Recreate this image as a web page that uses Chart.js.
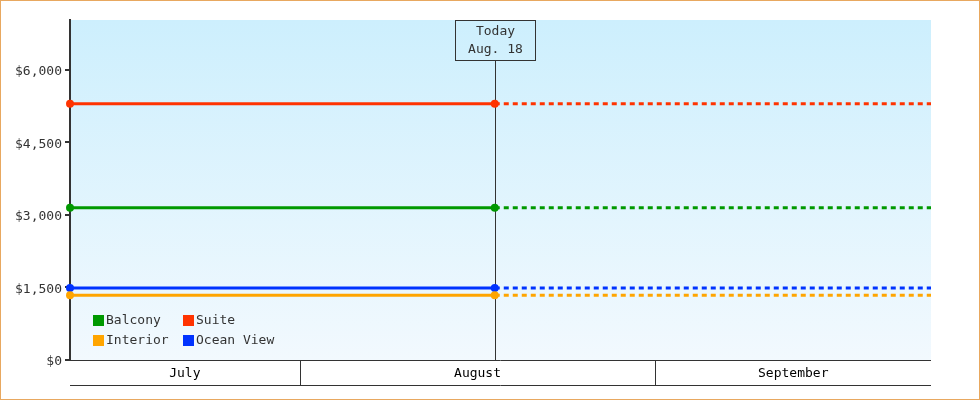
<!DOCTYPE html>
<html>
<head>
<meta charset="utf-8">
<script src="https://cdn.jsdelivr.net/npm/chart.js@4/dist/chart.umd.min.js"></script>
<style>
  html, body { margin: 0; padding: 0; background: #fff; }
  #wrap { width: 980px; height: 400px; position: relative; }
</style>
</head>
<body>
<div id="wrap"><canvas id="priceChart"></canvas></div>
<script>
// x values are days counted from July 1 (July 1 = 0)
const dayStart = 11;   // Jul 12
const dayToday = 48;   // Aug 18
const dayEnd = 86;     // Sep 25
const xDays = [dayStart, dayToday, dayEnd];

const months = ['July', 'August', 'September'];
const monthStarts = [0, 31, 62, 92];

const roomTypes = ['Balcony', 'Suite', 'Interior', 'Ocean View'];
const roomColors = ['#009900', '#ff3300', '#ffa500', '#0033ff'];
const balconyPrices = [3150, 3150, 3150];
const suitePrices = [5300, 5300, 5300];
const interiorPrices = [1340, 1340, 1340];
const oceanViewPrices = [1490, 1490, 1490];

const yTicks = [0, 1500, 3000, 4500, 6000];
const todayLabel = ['Today', 'Aug. 18'];

const FONT = '13px "DejaVu Sans Mono", monospace';
const INK = '#333333';

const makeSet = (label, values, color) => ({
  label,
  data: values.map((v, i) => ({ x: xDays[i], y: v })),
  borderColor: color,
  backgroundColor: color,
  borderWidth: 3,
  pointRadius: values.map((v, i) => (i < values.length - 1 ? 4 : 0)),
  pointBorderWidth: 0,
  pointHoverRadius: 0,
  segment: {
    borderDash: (ctx) => (ctx.p0DataIndex >= 1 ? [5, 4] : undefined),
  },
  clip: false,
});

const chartBackground = {
  id: 'chartBackground',
  beforeDraw(chart) {
    const { ctx, chartArea: a } = chart;
    const g = ctx.createLinearGradient(0, a.top, 0, a.bottom);
    g.addColorStop(0, '#cdeffd');
    g.addColorStop(1, '#f2f9fe');
    ctx.save();
    ctx.fillStyle = g;
    ctx.fillRect(a.left, a.top, a.right - a.left, a.bottom - a.top);
    ctx.restore();
  },
};

const monthBand = {
  id: 'monthBand',
  afterDraw(chart) {
    const { ctx, chartArea: a } = chart;
    const xs = chart.scales.x;
    const top = a.bottom;
    const bottom = a.bottom + 25;
    ctx.save();
    ctx.strokeStyle = INK;
    ctx.lineWidth = 1;
    ctx.beginPath();
    ctx.moveTo(a.left, top + 0.5);
    ctx.lineTo(a.right, top + 0.5);
    ctx.moveTo(a.left, bottom + 0.5);
    ctx.lineTo(a.right, bottom + 0.5);
    ctx.stroke();
    ctx.font = FONT;
    ctx.fillStyle = '#000';
    ctx.textAlign = 'center';
    ctx.textBaseline = 'middle';
    months.forEach((m, i) => {
      const x0 = Math.max(a.left, xs.getPixelForValue(monthStarts[i]));
      const x1 = Math.min(a.right, xs.getPixelForValue(monthStarts[i + 1]));
      if (i > 0) {
        ctx.beginPath();
        ctx.moveTo(Math.round(x0) + 0.5, top);
        ctx.lineTo(Math.round(x0) + 0.5, bottom);
        ctx.stroke();
      }
      ctx.fillText(m, (x0 + x1) / 2, (top + bottom) / 2 + 1);
    });
    ctx.restore();
  },
};

const todayMarker = {
  id: 'todayMarker',
  beforeDatasetsDraw(chart) {
    const { ctx, chartArea: a } = chart;
    const x = Math.round(chart.scales.x.getPixelForValue(dayToday)) + 0.5;
    const boxW = 80;
    const boxH = 40;
    ctx.save();
    ctx.strokeStyle = INK;
    ctx.lineWidth = 1;
    ctx.strokeRect(x - boxW / 2, a.top + 0.5, boxW, boxH);
    ctx.beginPath();
    ctx.moveTo(x, a.top + boxH);
    ctx.lineTo(x, a.bottom);
    ctx.stroke();
    ctx.font = FONT;
    ctx.fillStyle = INK;
    ctx.textAlign = 'center';
    ctx.textBaseline = 'middle';
    ctx.fillText(todayLabel[0], x, a.top + 12);
    ctx.fillText(todayLabel[1], x, a.top + 30);
    ctx.restore();
  },
};

const insideLegend = {
  id: 'insideLegend',
  afterDraw(chart) {
    const { ctx, chartArea: a } = chart;
    ctx.save();
    ctx.font = FONT;
    ctx.textAlign = 'left';
    ctx.textBaseline = 'middle';
    chart.data.datasets.forEach((ds, i) => {
      const col = i % 2;
      const row = Math.floor(i / 2);
      const x = a.left + 23 + col * 90;
      const y = a.bottom - 40 + row * 20;
      ctx.fillStyle = ds.borderColor;
      ctx.fillRect(x, y - 5, 11, 11);
      ctx.fillStyle = INK;
      ctx.fillText(ds.label, x + 13, y + 1);
    });
    ctx.restore();
  },
};

const frame = {
  id: 'frame',
  afterDraw(chart) {
    const { ctx, width, height } = chart;
    ctx.save();
    ctx.strokeStyle = '#e8a860';
    ctx.lineWidth = 1;
    ctx.strokeRect(0.5, 0.5, width - 1, height - 1);
    ctx.restore();
  },
};

new Chart(document.getElementById('priceChart'), {
  type: 'line',
  data: {
    datasets: [
      makeSet(roomTypes[0], balconyPrices, roomColors[0]),
      makeSet(roomTypes[1], suitePrices, roomColors[1]),
      makeSet(roomTypes[2], interiorPrices, roomColors[2]),
      makeSet(roomTypes[3], oceanViewPrices, roomColors[3]),
    ],
  },
  options: {
    responsive: true,
    maintainAspectRatio: false,
    animation: false,
    devicePixelRatio: 1,
    layout: { padding: { top: 20, right: 49, left: 0, bottom: 0 } },
    plugins: {
      legend: { display: false },
      tooltip: { enabled: false },
    },
    scales: {
      x: {
        type: 'linear',
        min: dayStart,
        max: dayEnd,
        ticks: { display: false },
        grid: { display: false },
        border: { display: false },
        afterFit: (scale) => { scale.height = 40; },
      },
      y: {
        min: 0,
        max: 7030,
        afterBuildTicks: (scale) => { scale.ticks = yTicks.map((v) => ({ value: v })); },
        ticks: {
          font: { family: '"DejaVu Sans Mono", monospace', size: 13 },
          color: INK,
          padding: 3,
          labelOffset: 2,
          callback: (v) => '$' + v.toLocaleString('en-US'),
        },
        grid: { drawOnChartArea: false, drawTicks: true, tickLength: 5, color: INK, lineWidth: 2 },
        border: { display: true, color: INK, width: 2 },
        afterFit: (scale) => { scale.width = 70; },
      },
    },
  },
  plugins: [chartBackground, todayMarker, monthBand, insideLegend, frame],
});
</script>
</body>
</html>
